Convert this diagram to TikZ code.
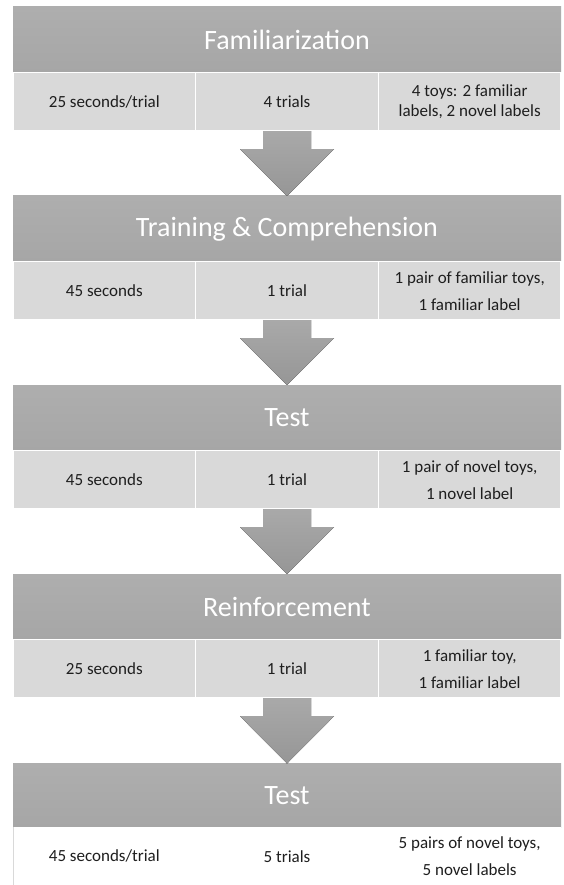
\documentclass[tikz,border=0pt]{standalone}
\usepackage{fontspec}
\setmainfont{Carlito}
\usetikzlibrary{calc}
\definecolor{hdrtop}{HTML}{AEAEAE}
\definecolor{hdrbot}{HTML}{A6A6A6}
\definecolor{cellc}{HTML}{D9D9D9}
\definecolor{txt}{HTML}{1E1E1E}
\definecolor{arrtop}{HTML}{A9A9A9}
\definecolor{arrbot}{HTML}{969696}
\definecolor{edge}{HTML}{D9D9D9}
\begin{document}
\begin{tikzpicture}[x=1pt,y=-1pt,
  hdrbox/.style={anchor=north west, minimum width=548pt, minimum height=65.7pt,
    inner sep=0pt, outer sep=0pt, top color=hdrtop, bottom color=hdrbot,
    text=white, font=\fontsize{28}{34}\selectfont},
  cellbox/.style={anchor=north west, minimum width=182.67pt, minimum height=58.5pt,
    inner sep=0pt, outer sep=0pt, fill=cellc, draw=white, line width=1.5pt,
    text=txt, font=\fontsize{17}{27}\selectfont, align=center},
  tightcell/.style={font=\fontsize{17}{20}\selectfont},
  whitecell/.style={fill=white, draw=none},
  blockarrow/.style={top color=arrtop, bottom color=arrbot, draw=none}
]
\useasboundingbox (0,0) rectangle (563,885);
\fill[white] (0,0) rectangle (563,885);

% ---------- Stage 1
\node[hdrbox] (h1) at (13,7) {Familiarization};
\node[cellbox] (r1a) at (13,72.7) {25 seconds/trial};
\node[cellbox] (r1b) at (195.67,72.7) {4 trials};
\node[cellbox,tightcell] (r1c) at (378.33,72.7) {4 toys: 2 familiar\\labels, 2 novel labels};

% ---------- Stage 2
\node[hdrbox] (h2) at (13,196) {Training \& Comprehension};
\node[cellbox] (r2a) at (13,261.7) {45 seconds};
\node[cellbox] (r2b) at (195.67,261.7) {1 trial};
\node[cellbox] (r2c) at (378.33,261.7) {1 pair of familiar toys,\\1 familiar label};

% ---------- Stage 3
\node[hdrbox] (h3) at (13,385) {Test};
\node[cellbox] (r3a) at (13,450.7) {45 seconds};
\node[cellbox] (r3b) at (195.67,450.7) {1 trial};
\node[cellbox] (r3c) at (378.33,450.7) {1 pair of novel toys,\\1 novel label};

% ---------- Stage 4
\node[hdrbox] (h4) at (13,574) {Reinforcement};
\node[cellbox] (r4a) at (13,639.7) {25 seconds};
\node[cellbox] (r4b) at (195.67,639.7) {1 trial};
\node[cellbox] (r4c) at (378.33,639.7) {1 familiar toy,\\1 familiar label};

% ---------- Stage 5
\node[hdrbox, minimum height=63.5pt] (h5) at (13,763.5) {Test};
\node[cellbox,whitecell] (r5a) at (13,827) {45 seconds/trial};
\node[cellbox,whitecell] (r5b) at (195.67,827) {5 trials};
\node[cellbox,whitecell] (r5c) at (378.33,827) {5 pairs of novel toys,\\5 novel labels};
\draw[edge, line width=0.8pt] (r5a.north west) -- (r5a.south west);

% ---------- Block arrows
\foreach \a/\b in {r1b/h2, r2b/h3, r3b/h4, r4b/h5}{
  \fill[blockarrow]
    ($(\a.south)+(-24,0)$) -- ($(\a.south)+(-24,18)$) -- ($(\a.south)+(-47,18)$)
    -- (\b.north) -- ($(\a.south)+(47,18)$) -- ($(\a.south)+(24,18)$)
    -- ($(\a.south)+(24,0)$) -- cycle;
}
\end{tikzpicture}
\end{document}
